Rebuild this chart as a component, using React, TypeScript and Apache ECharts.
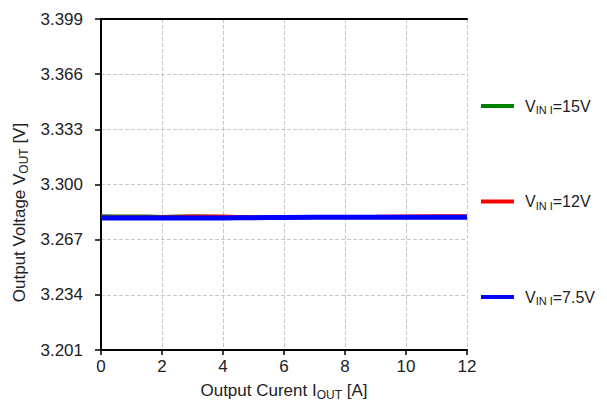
import React, { useEffect, useRef } from "react";
import * as echarts from "echarts";

const currents = [0, 0.5, 1, 1.5, 2, 2.5, 3, 3.5, 4, 4.5, 5, 5.5, 6, 7, 8, 9, 10, 11, 12];
const vin15 = [3.2810, 3.2809, 3.2808, 3.2809, 3.2806, 3.2808, 3.2808, 3.2807, 3.2806, 3.2805, 3.2803, 3.2802, 3.2805, 3.2806, 3.2806, 3.2806, 3.2806, 3.2806, 3.2806];
const vin12 = [3.2802, 3.2802, 3.2802, 3.2802, 3.2803, 3.2805, 3.2808, 3.2808, 3.2808, 3.2805, 3.2803, 3.2802, 3.2804, 3.2805, 3.2806, 3.2807, 3.2809, 3.2810, 3.2810];
const vin75 = [3.2800, 3.2800, 3.2800, 3.2800, 3.2800, 3.2800, 3.2800, 3.2800, 3.2800, 3.2801, 3.2801, 3.2802, 3.2803, 3.2804, 3.2804, 3.2804, 3.2804, 3.2804, 3.2804];
const seriesNames = ["VIN15", "VIN12", "VIN75"];
const legendLabels: Record<string, string> = {
  VIN15: "{v|V}{s|IN I}{v|=15V}",
  VIN12: "{v|V}{s|IN I}{v|=12V}",
  VIN75: "{v|V}{s|IN I}{v|=7.5V}",
};
const colors = ["#008000", "#ff0000", "#0000ff"];

export default function App() {
  const ref = useRef<HTMLDivElement>(null);
  useEffect(() => {
    if (!ref.current) return;
    const chart = echarts.init(ref.current, null, { renderer: "svg" });
    const font = "'Liberation Sans', Arial, sans-serif";
    const datas = [vin15, vin12, vin75];
    const nameRich = {
      n: { fontSize: 17, color: "#222", fontFamily: font },
      s: { fontSize: 12, color: "#222", fontFamily: font, padding: [9, 0, 0, 0] },
    };
    chart.setOption({
      animation: false,
      textStyle: { fontFamily: font },
      grid: { left: 101, right: 140, top: 19, bottom: 58, outerBoundsMode: "none", containLabel: false },
      legend: {
        orient: "vertical",
        right: 7,
        top: 93,
        itemGap: 78,
        itemWidth: 33,
        itemHeight: 4,
        icon: "rect",
        data: seriesNames,
        formatter: (n: string) => legendLabels[n],
        textStyle: {
          padding: [0, 0, 0, 6],
          rich: {
            v: { fontSize: 16, color: "#222", fontFamily: font },
            s: { fontSize: 11, color: "#222", fontFamily: font, padding: [8, 0, 0, 0] },
          },
        },
      },
      xAxis: [
        {
          type: "value",
          min: 0, max: 12, interval: 2,
          name: "{n|Output Curent I}{s|OUT}{n| [A]}",
          nameLocation: "middle",
          nameGap: 30,
          nameTextStyle: { rich: nameRich },
          axisLine: { lineStyle: { color: "#000", width: 2 } },
          axisTick: { show: true, length: 5, lineStyle: { color: "#000", width: 1.5 } },
          axisLabel: { fontSize: 17, color: "#222", margin: 8 },
          splitLine: { show: true, lineStyle: { color: "#c8c8c8", type: "dashed", width: 1 } },
        },
        {
          type: "value",
          position: "top",
          min: 0, max: 12, interval: 2,
          axisLine: { show: true, lineStyle: { color: "#000", width: 2 } },
          axisTick: { show: false },
          axisLabel: { show: false },
          splitLine: { show: false },
        },
      ],
      yAxis: [
        {
          type: "value",
          min: 3.201, max: 3.399, interval: 0.033,
          name: "{n|Output Voltage V}{s|OUT}{n| [V]}",
          nameLocation: "middle",
          nameGap: 70,
          nameTextStyle: { rich: nameRich, padding: [0, 56, 0, 0] },
          axisLine: { show: true, lineStyle: { color: "#000", width: 2 } },
          axisTick: { show: true, length: 6, lineStyle: { color: "#000", width: 1.5 } },
          axisLabel: { fontSize: 17, color: "#222", margin: 18, formatter: (v: number) => v.toFixed(3) },
          splitLine: { show: true, lineStyle: { color: "#c8c8c8", type: "dashed", width: 1 } },
        },
        {
          type: "value",
          position: "right",
          min: 3.201, max: 3.399, interval: 0.033,
          axisLine: { show: true, lineStyle: { color: "#000", width: 2 } },
          axisTick: { show: false },
          axisLabel: { show: false },
          splitLine: { show: false },
        },
      ],
      series: seriesNames.map((name, i) => ({
        name,
        type: "line",
        showSymbol: false,
        symbol: "none",
        color: colors[i],
        lineStyle: { width: i === 2 ? 5 : 4, color: colors[i] },
        data: currents.map((x, j) => [x, datas[i][j]]),
        z: 2 + i,
      })),
    });
    return () => chart.dispose();
  }, []);
  return (
    <div
      ref={ref}
      style={{ position: "absolute", left: 0, top: 0, width: 607, height: 408, background: "#fff" }}
    />
  );
}
